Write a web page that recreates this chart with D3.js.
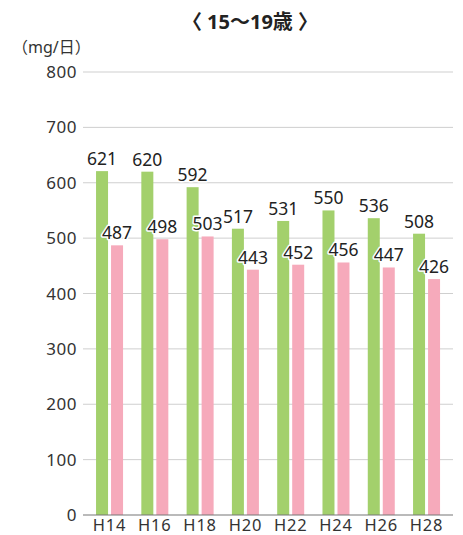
<!DOCTYPE html>
<html>
<head>
<meta charset="utf-8">
<script src="https://cdn.jsdelivr.net/npm/d3@7"></script>
<style>
  html, body { margin: 0; padding: 0; background: #fff; }
  svg { display: block; font-family: "Noto Sans", "Noto Sans CJK JP", sans-serif; }
</style>
</head>
<body>
<svg id="chart" width="463" height="535"></svg>
<script>
// Survey years (Heisei era) and daily intake values (mg/day), age 15-19
const years = ["H14", "H16", "H18", "H20", "H22", "H24", "H26", "H28"];
const maleValues = [621, 620, 592, 517, 531, 550, 536, 508];
const femaleValues = [487, 498, 503, 443, 452, 456, 447, 426];
const yTicks = [0, 100, 200, 300, 400, 500, 600, 700, 800];
const title = "〈 15～19歳 〉";
const unitLabel = "（mg/日）";

const colors = { male: "#a3d06c", female: "#f6aabb" };

const svg = d3.select("#chart");
const plot = { left: 83, right: 453, top: 72, bottom: 515 };

const x = d3.scaleBand()
  .domain(years)
  .range([86.9, 449.2])
  .paddingInner(0)
  .paddingOuter(0);

const y = d3.scaleLinear().domain([0, 800]).range([plot.bottom, plot.top]);

const barW = 12, gap = 3;

// Gridlines
svg.append("g")
  .selectAll("line")
  .data(yTicks.filter(d => d !== 0))
  .join("line")
  .attr("x1", plot.left).attr("x2", plot.right)
  .attr("y1", d => y(d)).attr("y2", d => y(d))
  .attr("stroke", "#cfcfcf").attr("stroke-width", 1);

// Y axis labels
svg.append("g")
  .selectAll("text")
  .data(yTicks)
  .join("text")
  .attr("x", 77)
  .attr("y", d => y(d) + 6)
  .attr("text-anchor", "end")
  .attr("font-size", 17)
  .attr("letter-spacing", 0.5)
  .attr("fill", "#333")
  .text(d => d);

const groups = years.map((yr, i) => ({ yr, m: maleValues[i], f: femaleValues[i] }));
const center = d => x(d.yr) + x.bandwidth() / 2;

// Bars
svg.append("g")
  .selectAll("rect")
  .data(groups)
  .join("rect")
  .attr("x", d => center(d) - gap / 2 - barW)
  .attr("y", d => y(d.m))
  .attr("width", barW)
  .attr("height", d => y(0) - y(d.m))
  .attr("fill", colors.male);

svg.append("g")
  .selectAll("rect")
  .data(groups)
  .join("rect")
  .attr("x", d => center(d) + gap / 2)
  .attr("y", d => y(d.f))
  .attr("width", barW)
  .attr("height", d => y(0) - y(d.f))
  .attr("fill", colors.female);

// Baseline
svg.append("line")
  .attr("x1", plot.left).attr("x2", plot.right)
  .attr("y1", y(0)).attr("y2", y(0))
  .attr("stroke", "#777").attr("stroke-width", 1.2);

// Value labels with white halo
function valueLabels(accessor, offset) {
  svg.append("g")
    .selectAll("text")
    .data(groups)
    .join("text")
    .attr("x", d => center(d) + offset)
    .attr("y", d => y(accessor(d)) - 6)
    .attr("text-anchor", "middle")
    .attr("font-size", 17.5)
    .attr("fill", "#222")
    .attr("stroke", "#fff")
    .attr("stroke-width", 3)
    .attr("paint-order", "stroke")
    .attr("stroke-linejoin", "round")
    .text(d => accessor(d));
}
valueLabels(d => d.m, -gap / 2 - barW / 2);
valueLabels(d => d.f, gap / 2 + barW / 2);

// X axis labels
svg.append("g")
  .selectAll("text")
  .data(years)
  .join("text")
  .attr("x", d => x(d) + x.bandwidth() / 2)
  .attr("y", 531)
  .attr("text-anchor", "middle")
  .attr("font-size", 16.5)
  .attr("letter-spacing", 0.8)
  .attr("fill", "#333")
  .text(d => d);

// Title and unit
svg.append("text")
  .attr("x", 250).attr("y", 29)
  .attr("text-anchor", "middle")
  .attr("font-size", 20)
  .attr("font-weight", "bold")
  .attr("fill", "#222")
  .text(title);

svg.append("text")
  .attr("x", 12).attr("y", 53)
  .attr("font-size", 16)
  .attr("fill", "#333")
  .text(unitLabel);
</script>
</body>
</html>
